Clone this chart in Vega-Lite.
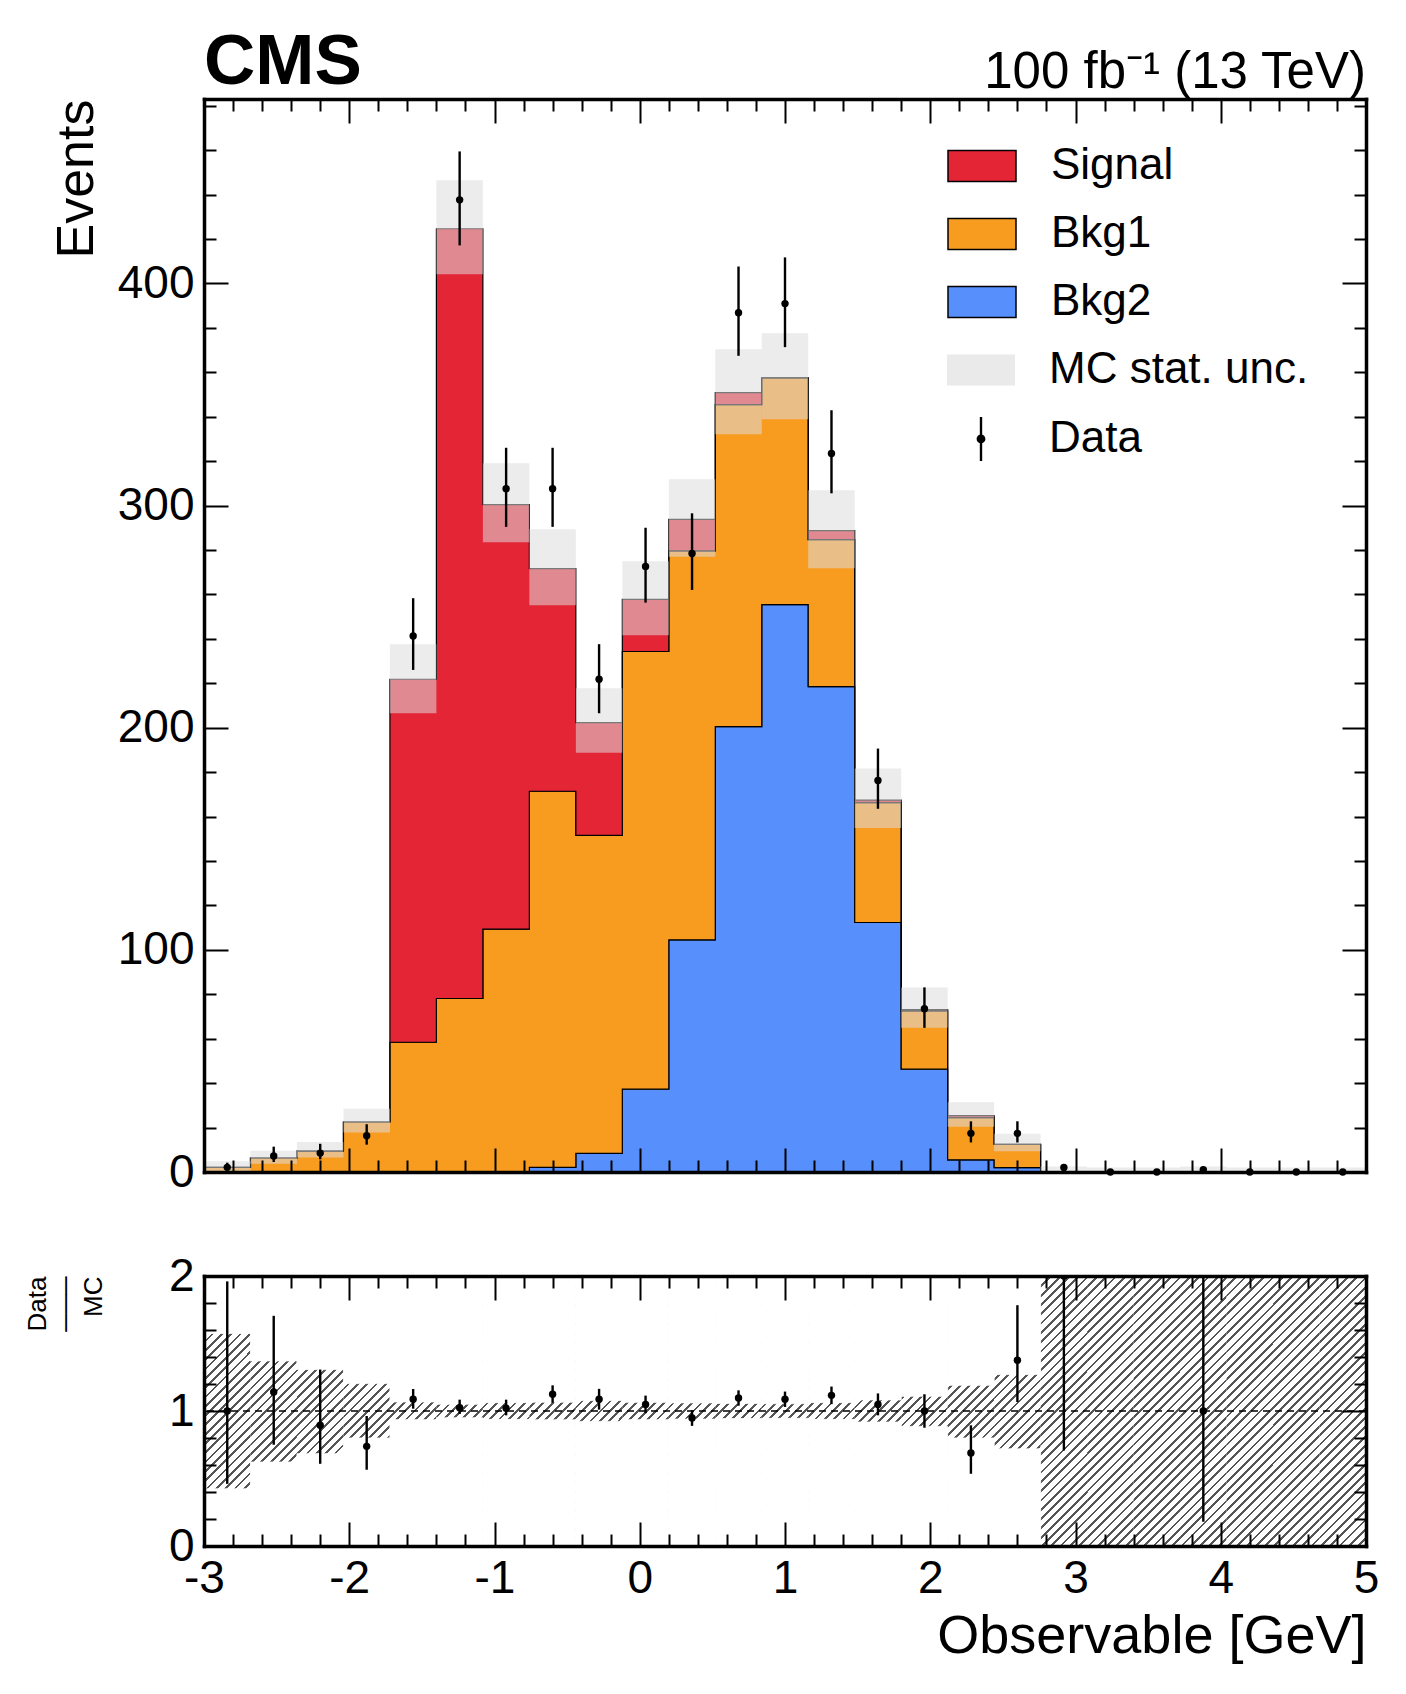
{
  "$schema": "https://vega.github.io/schema/vega-lite/v6.json",
  "padding": {"left": 24, "top": 27, "right": 20, "bottom": 10},
  "spacing": 58,
  "datasets": {
    "stack": [
      {"x": -3, "process": "Bkg2", "n": 0, "k": 1}, {"x": -3, "process": "Bkg1", "n": 2.1, "k": 2}, {"x": -3, "process": "Signal", "n": 0, "k": 3},
      {"x": -2.68, "process": "Bkg2", "n": 0, "k": 1}, {"x": -2.68, "process": "Bkg1", "n": 6.3, "k": 2}, {"x": -2.68, "process": "Signal", "n": 0, "k": 3},
      {"x": -2.36, "process": "Bkg2", "n": 0, "k": 1}, {"x": -2.36, "process": "Bkg1", "n": 9.4, "k": 2}, {"x": -2.36, "process": "Signal", "n": 0, "k": 3},
      {"x": -2.04, "process": "Bkg2", "n": 0, "k": 1}, {"x": -2.04, "process": "Bkg1", "n": 22.5, "k": 2}, {"x": -2.04, "process": "Signal", "n": 0, "k": 3},
      {"x": -1.72, "process": "Bkg2", "n": 0, "k": 1}, {"x": -1.72, "process": "Bkg1", "n": 58.4, "k": 2}, {"x": -1.72, "process": "Signal", "n": 163.4, "k": 3},
      {"x": -1.4, "process": "Bkg2", "n": 0, "k": 1}, {"x": -1.4, "process": "Bkg1", "n": 78.1, "k": 2}, {"x": -1.4, "process": "Signal", "n": 346.5, "k": 3},
      {"x": -1.08, "process": "Bkg2", "n": 0, "k": 1}, {"x": -1.08, "process": "Bkg1", "n": 109.3, "k": 2}, {"x": -1.08, "process": "Signal", "n": 191.1, "k": 3},
      {"x": -0.76, "process": "Bkg2", "n": 2.1, "k": 1}, {"x": -0.76, "process": "Bkg1", "n": 169.3, "k": 2}, {"x": -0.76, "process": "Signal", "n": 100.2, "k": 3},
      {"x": -0.44, "process": "Bkg2", "n": 8.4, "k": 1}, {"x": -0.44, "process": "Bkg1", "n": 143.1, "k": 2}, {"x": -0.44, "process": "Signal", "n": 50.8, "k": 3},
      {"x": -0.12, "process": "Bkg2", "n": 37.3, "k": 1}, {"x": -0.12, "process": "Bkg1", "n": 197.0, "k": 2}, {"x": -0.12, "process": "Signal", "n": 23.5, "k": 3},
      {"x": 0.2, "process": "Bkg2", "n": 104.5, "k": 1}, {"x": 0.2, "process": "Bkg1", "n": 175.1, "k": 2}, {"x": 0.2, "process": "Signal", "n": 14.2, "k": 3},
      {"x": 0.52, "process": "Bkg2", "n": 200.5, "k": 1}, {"x": 0.52, "process": "Bkg1", "n": 144.9, "k": 2}, {"x": 0.52, "process": "Signal", "n": 5.4, "k": 3},
      {"x": 0.84, "process": "Bkg2", "n": 255.4, "k": 1}, {"x": 0.84, "process": "Bkg1", "n": 102.1, "k": 2}, {"x": 0.84, "process": "Signal", "n": 0, "k": 3},
      {"x": 1.16, "process": "Bkg2", "n": 218.5, "k": 1}, {"x": 1.16, "process": "Bkg1", "n": 66.2, "k": 2}, {"x": 1.16, "process": "Signal", "n": 4.0, "k": 3},
      {"x": 1.48, "process": "Bkg2", "n": 112.3, "k": 1}, {"x": 1.48, "process": "Bkg1", "n": 54.0, "k": 2}, {"x": 1.48, "process": "Signal", "n": 1.1, "k": 3},
      {"x": 1.8, "process": "Bkg2", "n": 46.3, "k": 1}, {"x": 1.8, "process": "Bkg1", "n": 26.2, "k": 2}, {"x": 1.8, "process": "Signal", "n": 0.6, "k": 3},
      {"x": 2.12, "process": "Bkg2", "n": 5.5, "k": 1}, {"x": 2.12, "process": "Bkg1", "n": 19.0, "k": 2}, {"x": 2.12, "process": "Signal", "n": 0.9, "k": 3},
      {"x": 2.44, "process": "Bkg2", "n": 2.0, "k": 1}, {"x": 2.44, "process": "Bkg1", "n": 10.5, "k": 2}, {"x": 2.44, "process": "Signal", "n": 0, "k": 3},
      {"x": 2.76, "process": "Bkg2", "n": 0, "k": 1}, {"x": 2.76, "process": "Bkg1", "n": 0, "k": 2}, {"x": 2.76, "process": "Signal", "n": 0, "k": 3},
      {"x": 3.08, "process": "Bkg2", "n": 0, "k": 1}, {"x": 3.08, "process": "Bkg1", "n": 0, "k": 2}, {"x": 3.08, "process": "Signal", "n": 0, "k": 3},
      {"x": 3.4, "process": "Bkg2", "n": 0, "k": 1}, {"x": 3.4, "process": "Bkg1", "n": 0, "k": 2}, {"x": 3.4, "process": "Signal", "n": 0, "k": 3},
      {"x": 3.72, "process": "Bkg2", "n": 0, "k": 1}, {"x": 3.72, "process": "Bkg1", "n": 0, "k": 2}, {"x": 3.72, "process": "Signal", "n": 0, "k": 3},
      {"x": 4.04, "process": "Bkg2", "n": 0, "k": 1}, {"x": 4.04, "process": "Bkg1", "n": 0, "k": 2}, {"x": 4.04, "process": "Signal", "n": 0, "k": 3},
      {"x": 4.36, "process": "Bkg2", "n": 0, "k": 1}, {"x": 4.36, "process": "Bkg1", "n": 0, "k": 2}, {"x": 4.36, "process": "Signal", "n": 0, "k": 3},
      {"x": 4.68, "process": "Bkg2", "n": 0, "k": 1}, {"x": 4.68, "process": "Bkg1", "n": 0, "k": 2}, {"x": 4.68, "process": "Signal", "n": 0, "k": 3},
      {"x": 5, "process": "Bkg2", "n": 0, "k": 1}, {"x": 5, "process": "Bkg1", "n": 0, "k": 2}, {"x": 5, "process": "Signal", "n": 0, "k": 3}
    ],
    "bins": [
      {"x0": -3.0, "x1": -2.68, "xc": -2.84, "bLo": 0.2, "bHi": 4.8, "d": 2.1, "dLo": 0.6, "dHi": 4.2, "r": 1.0, "rLo": 0.46, "rHi": 1.96, "rbLo": 0.424, "rbHi": 1.574},
      {"x0": -2.68, "x1": -2.36, "xc": -2.52, "bLo": 3.7, "bHi": 9.6, "d": 7.2, "dLo": 4.5, "dHi": 11.4, "r": 1.141, "rLo": 0.75, "rHi": 1.705, "rbLo": 0.622, "rbHi": 1.371},
      {"x0": -2.36, "x1": -2.04, "xc": -2.2, "bLo": 6.5, "bHi": 13.5, "d": 8.5, "dLo": 5.7, "dHi": 12.7, "r": 0.894, "rLo": 0.609, "rHi": 1.307, "rbLo": 0.684, "rbHi": 1.307},
      {"x0": -2.04, "x1": -1.72, "xc": -1.88, "bLo": 17.8, "bHi": 28.5, "d": 16.3, "dLo": 12.3, "dHi": 21.5, "r": 0.738, "rLo": 0.565, "rHi": 0.963, "rbLo": 0.8, "rbHi": 1.203},
      {"x0": -1.72, "x1": -1.4, "xc": -1.56, "bLo": 206.5, "bHi": 237.6, "d": 241.3, "dLo": 226.0, "dHi": 258.3, "r": 1.087, "rLo": 1.017, "rHi": 1.163, "rbLo": 0.936, "rbHi": 1.067},
      {"x0": -1.4, "x1": -1.08, "xc": -1.24, "bLo": 404.1, "bHi": 446.4, "d": 437.6, "dLo": 417.1, "dHi": 459.4, "r": 1.025, "rLo": 0.978, "rHi": 1.084, "rbLo": 0.95, "rbHi": 1.05},
      {"x0": -1.08, "x1": -0.76, "xc": -0.92, "bLo": 283.5, "bHi": 319.0, "d": 307.6, "dLo": 290.4, "dHi": 326.0, "r": 1.02, "rLo": 0.968, "rHi": 1.084, "rbLo": 0.938, "rbHi": 1.062},
      {"x0": -0.76, "x1": -0.44, "xc": -0.6, "bLo": 255.1, "bHi": 289.3, "d": 307.6, "dLo": 290.4, "dHi": 326.0, "r": 1.124, "rLo": 1.06, "rHi": 1.19, "rbLo": 0.935, "rbHi": 1.065},
      {"x0": -0.44, "x1": -0.12, "xc": -0.28, "bLo": 188.7, "bHi": 217.8, "d": 221.8, "dLo": 206.5, "dHi": 237.6, "r": 1.087, "rLo": 1.01, "rHi": 1.164, "rbLo": 0.923, "rbHi": 1.077},
      {"x0": -0.12, "x1": 0.2, "xc": 0.04, "bLo": 241.6, "bHi": 274.9, "d": 272.6, "dLo": 256.3, "dHi": 290.0, "r": 1.049, "rLo": 0.984, "rHi": 1.114, "rbLo": 0.936, "rbHi": 1.064},
      {"x0": 0.2, "x1": 0.52, "xc": 0.36, "bLo": 276.9, "bHi": 311.8, "d": 278.4, "dLo": 262.0, "dHi": 296.5, "r": 0.948, "rLo": 0.89, "rHi": 1.006, "rbLo": 0.94, "rbHi": 1.06},
      {"x0": 0.52, "x1": 0.84, "xc": 0.68, "bLo": 332.1, "bHi": 370.3, "d": 386.8, "dLo": 367.4, "dHi": 407.6, "r": 1.096, "rLo": 1.039, "rHi": 1.153, "rbLo": 0.944, "rbHi": 1.056},
      {"x0": 0.84, "x1": 1.16, "xc": 1.0, "bLo": 338.8, "bHi": 377.5, "d": 390.9, "dLo": 371.3, "dHi": 411.7, "r": 1.087, "rLo": 1.03, "rHi": 1.144, "rbLo": 0.946, "rbHi": 1.054},
      {"x0": 1.16, "x1": 1.48, "xc": 1.32, "bLo": 271.8, "bHi": 306.9, "d": 323.4, "dLo": 305.5, "dHi": 342.9, "r": 1.116, "rLo": 1.051, "rHi": 1.181, "rbLo": 0.938, "rbHi": 1.062},
      {"x0": 1.48, "x1": 1.8, "xc": 1.64, "bLo": 154.8, "bHi": 181.6, "d": 176.2, "dLo": 163.5, "dHi": 190.6, "r": 1.049, "rLo": 0.968, "rHi": 1.13, "rbLo": 0.918, "rbHi": 1.082},
      {"x0": 1.8, "x1": 2.12, "xc": 1.96, "bLo": 64.9, "bHi": 83.1, "d": 73.5, "dLo": 64.9, "dHi": 83.1, "r": 1.0, "rLo": 0.876, "rHi": 1.124, "rbLo": 0.886, "rbHi": 1.109},
      {"x0": 2.12, "x1": 2.44, "xc": 2.28, "bLo": 20.4, "bHi": 31.4, "d": 17.4, "dLo": 13.3, "dHi": 22.8, "r": 0.689, "rLo": 0.535, "rHi": 0.894, "rbLo": 0.8, "rbHi": 1.19},
      {"x0": 2.44, "x1": 2.76, "xc": 2.6, "bLo": 9.3, "bHi": 17.2, "d": 17.4, "dLo": 13.3, "dHi": 22.8, "r": 1.376, "rLo": 1.067, "rHi": 1.784, "rbLo": 0.72, "rbHi": 1.27},
      {"x0": 2.76, "x1": 3.08, "xc": 2.92, "bLo": 0, "bHi": 2.5, "d": 2, "dLo": 0.6, "dHi": 3.4, "r": 2.0, "rLo": 0.708, "rHi": 3.4, "rbLo": 0, "rbHi": 2},
      {"x0": 3.08, "x1": 3.4, "xc": 3.24, "bLo": 0, "bHi": 2.0, "d": 0, "dLo": null, "dHi": null, "r": null, "rLo": null, "rHi": null, "rbLo": 0, "rbHi": 2},
      {"x0": 3.4, "x1": 3.72, "xc": 3.56, "bLo": 0, "bHi": 2.0, "d": 0, "dLo": null, "dHi": null, "r": null, "rLo": null, "rHi": null, "rbLo": 0, "rbHi": 2},
      {"x0": 3.72, "x1": 4.04, "xc": 3.88, "bLo": 0, "bHi": 2.5, "d": 1, "dLo": 0, "dHi": 2, "r": 1.0, "rLo": 0.18, "rHi": 2.5, "rbLo": 0, "rbHi": 2},
      {"x0": 4.04, "x1": 4.36, "xc": 4.2, "bLo": 0, "bHi": 2.0, "d": 0, "dLo": null, "dHi": null, "r": null, "rLo": null, "rHi": null, "rbLo": 0, "rbHi": 2},
      {"x0": 4.36, "x1": 4.68, "xc": 4.52, "bLo": 0, "bHi": 2.0, "d": 0, "dLo": null, "dHi": null, "r": null, "rLo": null, "rHi": null, "rbLo": 0, "rbHi": 2},
      {"x0": 4.68, "x1": 5.0, "xc": 4.84, "bLo": 0, "bHi": 2.0, "d": 0, "dLo": null, "dHi": null, "r": null, "rLo": null, "rHi": null, "rbLo": 0, "rbHi": 2}
    ]
  },
  "resolve": {"scale": {"x": "independent", "y": "independent"}},
  "vconcat": [
    {
      "width": 1162,
      "height": 1073,
      "layer": [
        {
          "data": {"name": "stack"},
          "mark": {"type": "area", "interpolate": "step-after", "stroke": "black", "strokeWidth": 1.2, "opacity": 1},
          "encoding": {
            "x": {"field": "x", "type": "quantitative", "scale": {"domain": [-3, 5], "nice": false, "zero": false},
              "axis": {"orient": "bottom", "labels": false, "title": null, "zindex": 1,
                "values": [-3,-2.8,-2.6,-2.4,-2.2,-2,-1.8,-1.6,-1.4,-1.2,-1,-0.8,-0.6,-0.4,-0.2,0,0.2,0.4,0.6,0.8,1,1.2,1.4,1.6,1.8,2,2.2,2.4,2.6,2.8,3,3.2,3.4,3.6,3.8,4,4.2,4.4,4.6,4.8,5],
                "tickSize": {"condition": {"test": "abs(datum.value - round(datum.value)) < 0.001", "value": -24}, "value": -12}}},
            "y": {"field": "n", "type": "quantitative", "stack": "zero", "scale": {"domain": [0, 483], "nice": false},
              "axis": {"orient": "left", "title": "Events", "titleAnchor": "end", "titlePadding": 14, "titleFontSize": 52, "zindex": 1,
                "values": [0,20,40,60,80,100,120,140,160,180,200,220,240,260,280,300,320,340,360,380,400,420,440,460,480],
                "labelExpr": "datum.value % 100 === 0 ? '' + datum.value : ''",
                "labelPadding": 34,
                "tickSize": {"condition": {"test": "datum.value % 100 === 0", "value": -24}, "value": -12}}},
            "color": {"field": "process", "type": "nominal",
              "scale": {"domain": ["Signal", "Bkg1", "Bkg2"], "range": ["#e42536", "#f89c20", "#5790fc"]},
              "legend": {"title": null, "orient": "none", "legendX": 743, "legendY": 32, "padding": 0,
                "symbolType": "M-1,-0.456H1V0.456H-1Z", "symbolSize": 4624, "rowPadding": 11,
                "symbolStrokeColor": "black", "symbolStrokeWidth": 1.5, "symbolOpacity": 1,
                "labelFontSize": 44, "labelFont": "Liberation Sans", "labelColor": "black", "labelOffset": 34, "labelLimit": 600}},
            "order": {"field": "k", "type": "quantitative"}
          }
        },
        {
          "data": {"name": "bins"},
          "mark": {"type": "rect", "opacity": 0.55},
          "encoding": {
            "x": {"field": "x0", "type": "quantitative",
              "axis": {"orient": "top", "labels": false, "title": null, "zindex": 1,
                "values": [-3,-2.8,-2.6,-2.4,-2.2,-2,-1.8,-1.6,-1.4,-1.2,-1,-0.8,-0.6,-0.4,-0.2,0,0.2,0.4,0.6,0.8,1,1.2,1.4,1.6,1.8,2,2.2,2.4,2.6,2.8,3,3.2,3.4,3.6,3.8,4,4.2,4.4,4.6,4.8,5],
                "tickSize": {"condition": {"test": "abs(datum.value - round(datum.value)) < 0.001", "value": -24}, "value": -12}}},
            "x2": {"field": "x1"},
            "y": {"field": "bLo", "type": "quantitative",
              "axis": {"orient": "right", "labels": false, "title": null, "zindex": 1,
                "values": [0,20,40,60,80,100,120,140,160,180,200,220,240,260,280,300,320,340,360,380,400,420,440,460,480],
                "tickSize": {"condition": {"test": "datum.value % 100 === 0", "value": -24}, "value": -12}}},
            "y2": {"field": "bHi"},
            "fill": {"datum": "MC stat. unc.", "type": "nominal",
              "scale": {"domain": ["MC stat. unc."], "range": ["#dcdcdc"]},
              "legend": {"title": null, "orient": "none", "legendX": 743, "legendY": 237, "padding": 0,
                "symbolType": "M-1,-0.456H1V0.456H-1Z", "symbolSize": 4624,
                "symbolStrokeColor": "transparent", "symbolStrokeWidth": 0, "symbolOpacity": 0.6,
                "labelFontSize": 44, "labelFont": "Liberation Sans", "labelColor": "black", "labelOffset": 34, "labelLimit": 600}}
          }
        },
        {
          "data": {"name": "bins"},
          "mark": {"type": "rule", "color": "black", "strokeWidth": 2.4},
          "encoding": {
            "x": {"field": "xc", "type": "quantitative", "axis": null},
            "y": {"field": "dLo", "type": "quantitative", "axis": null},
            "y2": {"field": "dHi"}
          }
        },
        {
          "data": {"name": "bins"},
          "mark": {"type": "circle", "color": "black", "size": 55, "opacity": 1},
          "encoding": {
            "x": {"field": "xc", "type": "quantitative", "axis": null},
            "y": {"field": "d", "type": "quantitative", "axis": null}
          }
        },
        {
          "data": {"values": [{}]},
          "mark": {"type": "point", "filled": true, "color": "black", "opacity": 0, "size": 4624},
          "encoding": {
            "shape": {"datum": "Data", "type": "nominal",
              "scale": {"domain": ["Data"], "range": ["M-0.035,-0.65H0.035V0.65H-0.035Z M0,-0.13A0.13,0.13 0 1,1 0,0.13A0.13,0.13 0 1,1 0,-0.13Z"]},
              "legend": {"title": null, "orient": "none", "legendX": 743, "legendY": 306, "padding": 0,
                "symbolSize": 4624, "symbolFillColor": "black", "symbolStrokeColor": "transparent", "symbolStrokeWidth": 0, "symbolOpacity": 1,
                "labelFontSize": 44, "labelFont": "Liberation Sans", "labelColor": "black", "labelOffset": 34, "labelLimit": 600}}
          }
        },
        {
          "data": {"values": [{}]},
          "mark": {"type": "text", "text": "100 fb⁻¹ (13 TeV)", "align": "right", "baseline": "alphabetic", "dy": -11, "fontSize": 51, "font": "Liberation Sans", "color": "black"},
          "encoding": {
            "x": {"datum": 5, "type": "quantitative", "axis": null},
            "y": {"datum": 483, "type": "quantitative", "axis": null}
          }
        },
        {
          "data": {"values": [{}]},
          "mark": {"type": "text", "text": "CMS", "align": "left", "baseline": "alphabetic", "dy": -15, "fontSize": 71, "fontWeight": "bold", "font": "Liberation Sans", "color": "black"},
          "encoding": {
            "x": {"datum": -3, "type": "quantitative", "axis": null},
            "y": {"datum": 483, "type": "quantitative", "axis": null}
          }
        }
      ],
      "resolve": {"axis": {"x": "independent", "y": "independent"}}
    },
    {
      "width": 1162,
      "height": 270,
      "layer": [
        {
          "data": {"name": "bins"},
          "transform": [{"joinaggregate": [{"op": "min", "field": "rbLo", "as": "bot"}, {"op": "max", "field": "rbHi", "as": "top"}]}],
          "mark": {"type": "rect", "fill": {"gradient": "linear", "x1": 0, "y1": 0, "x2": 0.196, "y2": 1.1384, "stops": [
            {"offset": 0, "color": "#555555"}, {"offset": 0.00882, "color": "#555555"}, {"offset": 0.00882, "color": "#ffffff"}, {"offset": 0.02941, "color": "#ffffff"},
            {"offset": 0.02941, "color": "#555555"}, {"offset": 0.03824, "color": "#555555"}, {"offset": 0.03824, "color": "#ffffff"}, {"offset": 0.05882, "color": "#ffffff"},
            {"offset": 0.05882, "color": "#555555"}, {"offset": 0.06765, "color": "#555555"}, {"offset": 0.06765, "color": "#ffffff"}, {"offset": 0.08824, "color": "#ffffff"},
            {"offset": 0.08824, "color": "#555555"}, {"offset": 0.09706, "color": "#555555"}, {"offset": 0.09706, "color": "#ffffff"}, {"offset": 0.11765, "color": "#ffffff"},
            {"offset": 0.11765, "color": "#555555"}, {"offset": 0.12647, "color": "#555555"}, {"offset": 0.12647, "color": "#ffffff"}, {"offset": 0.14706, "color": "#ffffff"},
            {"offset": 0.14706, "color": "#555555"}, {"offset": 0.15588, "color": "#555555"}, {"offset": 0.15588, "color": "#ffffff"}, {"offset": 0.17647, "color": "#ffffff"},
            {"offset": 0.17647, "color": "#555555"}, {"offset": 0.18529, "color": "#555555"}, {"offset": 0.18529, "color": "#ffffff"}, {"offset": 0.20588, "color": "#ffffff"},
            {"offset": 0.20588, "color": "#555555"}, {"offset": 0.21471, "color": "#555555"}, {"offset": 0.21471, "color": "#ffffff"}, {"offset": 0.23529, "color": "#ffffff"},
            {"offset": 0.23529, "color": "#555555"}, {"offset": 0.24412, "color": "#555555"}, {"offset": 0.24412, "color": "#ffffff"}, {"offset": 0.26471, "color": "#ffffff"},
            {"offset": 0.26471, "color": "#555555"}, {"offset": 0.27353, "color": "#555555"}, {"offset": 0.27353, "color": "#ffffff"}, {"offset": 0.29412, "color": "#ffffff"},
            {"offset": 0.29412, "color": "#555555"}, {"offset": 0.30294, "color": "#555555"}, {"offset": 0.30294, "color": "#ffffff"}, {"offset": 0.32353, "color": "#ffffff"},
            {"offset": 0.32353, "color": "#555555"}, {"offset": 0.33235, "color": "#555555"}, {"offset": 0.33235, "color": "#ffffff"}, {"offset": 0.35294, "color": "#ffffff"},
            {"offset": 0.35294, "color": "#555555"}, {"offset": 0.36176, "color": "#555555"}, {"offset": 0.36176, "color": "#ffffff"}, {"offset": 0.38235, "color": "#ffffff"},
            {"offset": 0.38235, "color": "#555555"}, {"offset": 0.39118, "color": "#555555"}, {"offset": 0.39118, "color": "#ffffff"}, {"offset": 0.41176, "color": "#ffffff"},
            {"offset": 0.41176, "color": "#555555"}, {"offset": 0.42059, "color": "#555555"}, {"offset": 0.42059, "color": "#ffffff"}, {"offset": 0.44118, "color": "#ffffff"},
            {"offset": 0.44118, "color": "#555555"}, {"offset": 0.45, "color": "#555555"}, {"offset": 0.45, "color": "#ffffff"}, {"offset": 0.47059, "color": "#ffffff"},
            {"offset": 0.47059, "color": "#555555"}, {"offset": 0.47941, "color": "#555555"}, {"offset": 0.47941, "color": "#ffffff"}, {"offset": 0.5, "color": "#ffffff"},
            {"offset": 0.5, "color": "#555555"}, {"offset": 0.50882, "color": "#555555"}, {"offset": 0.50882, "color": "#ffffff"}, {"offset": 0.52941, "color": "#ffffff"},
            {"offset": 0.52941, "color": "#555555"}, {"offset": 0.53824, "color": "#555555"}, {"offset": 0.53824, "color": "#ffffff"}, {"offset": 0.55882, "color": "#ffffff"},
            {"offset": 0.55882, "color": "#555555"}, {"offset": 0.56765, "color": "#555555"}, {"offset": 0.56765, "color": "#ffffff"}, {"offset": 0.58824, "color": "#ffffff"},
            {"offset": 0.58824, "color": "#555555"}, {"offset": 0.59706, "color": "#555555"}, {"offset": 0.59706, "color": "#ffffff"}, {"offset": 0.61765, "color": "#ffffff"},
            {"offset": 0.61765, "color": "#555555"}, {"offset": 0.62647, "color": "#555555"}, {"offset": 0.62647, "color": "#ffffff"}, {"offset": 0.64706, "color": "#ffffff"},
            {"offset": 0.64706, "color": "#555555"}, {"offset": 0.65588, "color": "#555555"}, {"offset": 0.65588, "color": "#ffffff"}, {"offset": 0.67647, "color": "#ffffff"},
            {"offset": 0.67647, "color": "#555555"}, {"offset": 0.68529, "color": "#555555"}, {"offset": 0.68529, "color": "#ffffff"}, {"offset": 0.70588, "color": "#ffffff"},
            {"offset": 0.70588, "color": "#555555"}, {"offset": 0.71471, "color": "#555555"}, {"offset": 0.71471, "color": "#ffffff"}, {"offset": 0.73529, "color": "#ffffff"},
            {"offset": 0.73529, "color": "#555555"}, {"offset": 0.74412, "color": "#555555"}, {"offset": 0.74412, "color": "#ffffff"}, {"offset": 0.76471, "color": "#ffffff"},
            {"offset": 0.76471, "color": "#555555"}, {"offset": 0.77353, "color": "#555555"}, {"offset": 0.77353, "color": "#ffffff"}, {"offset": 0.79412, "color": "#ffffff"},
            {"offset": 0.79412, "color": "#555555"}, {"offset": 0.80294, "color": "#555555"}, {"offset": 0.80294, "color": "#ffffff"}, {"offset": 0.82353, "color": "#ffffff"},
            {"offset": 0.82353, "color": "#555555"}, {"offset": 0.83235, "color": "#555555"}, {"offset": 0.83235, "color": "#ffffff"}, {"offset": 0.85294, "color": "#ffffff"},
            {"offset": 0.85294, "color": "#555555"}, {"offset": 0.86176, "color": "#555555"}, {"offset": 0.86176, "color": "#ffffff"}, {"offset": 0.88235, "color": "#ffffff"},
            {"offset": 0.88235, "color": "#555555"}, {"offset": 0.89118, "color": "#555555"}, {"offset": 0.89118, "color": "#ffffff"}, {"offset": 0.91176, "color": "#ffffff"},
            {"offset": 0.91176, "color": "#555555"}, {"offset": 0.92059, "color": "#555555"}, {"offset": 0.92059, "color": "#ffffff"}, {"offset": 0.94118, "color": "#ffffff"},
            {"offset": 0.94118, "color": "#555555"}, {"offset": 0.95, "color": "#555555"}, {"offset": 0.95, "color": "#ffffff"}, {"offset": 0.97059, "color": "#ffffff"},
            {"offset": 0.97059, "color": "#555555"}, {"offset": 0.97941, "color": "#555555"}, {"offset": 0.97941, "color": "#ffffff"}, {"offset": 1, "color": "#ffffff"}
          ]}},
          "encoding": {
            "x": {"field": "x0", "type": "quantitative", "axis": null},
            "x2": {"field": "x1"},
            "y": {"field": "bot", "type": "quantitative", "axis": null},
            "y2": {"field": "top"}
          }
        },
        {
          "data": {"name": "bins"},
          "transform": [{"joinaggregate": [{"op": "min", "field": "rbLo", "as": "bot"}]}],
          "mark": {"type": "rect", "fill": "white", "stroke": "white", "strokeWidth": 0.8},
          "encoding": {
            "x": {"field": "x0", "type": "quantitative", "axis": null},
            "x2": {"field": "x1"},
            "y": {"field": "bot", "type": "quantitative", "axis": null},
            "y2": {"field": "rbLo"}
          }
        },
        {
          "data": {"name": "bins"},
          "transform": [{"joinaggregate": [{"op": "max", "field": "rbHi", "as": "top"}]}],
          "mark": {"type": "rect", "fill": "white", "stroke": "white", "strokeWidth": 0.8},
          "encoding": {
            "x": {"field": "x0", "type": "quantitative", "scale": {"domain": [-3, 5], "nice": false, "zero": false},
              "axis": {"orient": "bottom", "title": "Observable [GeV]", "titleAnchor": "end", "titlePadding": -4, "titleFontSize": 54, "zindex": 1,
                "values": [-3,-2.8,-2.6,-2.4,-2.2,-2,-1.8,-1.6,-1.4,-1.2,-1,-0.8,-0.6,-0.4,-0.2,0,0.2,0.4,0.6,0.8,1,1.2,1.4,1.6,1.8,2,2.2,2.4,2.6,2.8,3,3.2,3.4,3.6,3.8,4,4.2,4.4,4.6,4.8,5],
                "labelExpr": "abs(datum.value - round(datum.value)) < 0.001 ? (datum.value < -0.001 ? '-' + abs(round(datum.value)) : '' + round(datum.value)) : ''",
                "labelPadding": 34,
                "tickSize": {"condition": {"test": "abs(datum.value - round(datum.value)) < 0.001", "value": -24}, "value": -12}}},
            "x2": {"field": "x1"},
            "y": {"field": "rbHi", "type": "quantitative", "scale": {"domain": [0, 2], "nice": false},
              "axis": {"orient": "left", "title": ["Data", "───", "MC"], "titleFontSize": 26, "titleLineHeight": 28, "titleAnchor": "end", "titlePadding": 62, "zindex": 1,
                "values": [0,0.2,0.4,0.6,0.8,1,1.2,1.4,1.6,1.8,2],
                "labelExpr": "abs(datum.value - round(datum.value)) < 0.001 ? '' + round(datum.value) : ''",
                "labelPadding": 34,
                "tickSize": {"condition": {"test": "abs(datum.value - round(datum.value)) < 0.001", "value": -24}, "value": -12}}},
            "y2": {"field": "top"}
          }
        },
        {
          "data": {"values": [{}]},
          "mark": {"type": "rule", "color": "black", "strokeWidth": 1.5, "strokeDash": [7, 5]},
          "encoding": {
            "y": {"datum": 1, "type": "quantitative", "axis": null}
          }
        },
        {
          "data": {"name": "bins"},
          "mark": {"type": "rule", "color": "black", "strokeWidth": 2.4, "clip": true},
          "encoding": {
            "x": {"field": "xc", "type": "quantitative",
              "axis": {"orient": "top", "labels": false, "title": null, "zindex": 1,
                "values": [-3,-2.8,-2.6,-2.4,-2.2,-2,-1.8,-1.6,-1.4,-1.2,-1,-0.8,-0.6,-0.4,-0.2,0,0.2,0.4,0.6,0.8,1,1.2,1.4,1.6,1.8,2,2.2,2.4,2.6,2.8,3,3.2,3.4,3.6,3.8,4,4.2,4.4,4.6,4.8,5],
                "tickSize": {"condition": {"test": "abs(datum.value - round(datum.value)) < 0.001", "value": -24}, "value": -12}}},
            "y": {"field": "rLo", "type": "quantitative",
              "axis": {"orient": "right", "labels": false, "title": null, "zindex": 1,
                "values": [0,0.2,0.4,0.6,0.8,1,1.2,1.4,1.6,1.8,2],
                "tickSize": {"condition": {"test": "abs(datum.value - round(datum.value)) < 0.001", "value": -24}, "value": -12}}},
            "y2": {"field": "rHi"}
          }
        },
        {
          "data": {"name": "bins"},
          "mark": {"type": "circle", "color": "black", "size": 55, "opacity": 1, "clip": true},
          "encoding": {
            "x": {"field": "xc", "type": "quantitative", "axis": null},
            "y": {"field": "r", "type": "quantitative", "axis": null}
          }
        }
      ],
      "resolve": {"axis": {"x": "independent", "y": "independent"}}
    }
  ],
  "config": {
    "font": "Liberation Sans",
    "view": {"stroke": null},
    "axis": {"grid": false, "domain": true, "domainColor": "black", "domainWidth": 3.5, "domainCap": "square",
      "tickColor": "black", "tickWidth": 2, "labelColor": "black", "titleColor": "black",
      "labelFont": "Liberation Sans", "titleFont": "Liberation Sans", "labelFontSize": 46, "titleFontSize": 50, "titleFontWeight": "normal",
      "labelFlush": false, "labelOverlap": false}
  }
}
